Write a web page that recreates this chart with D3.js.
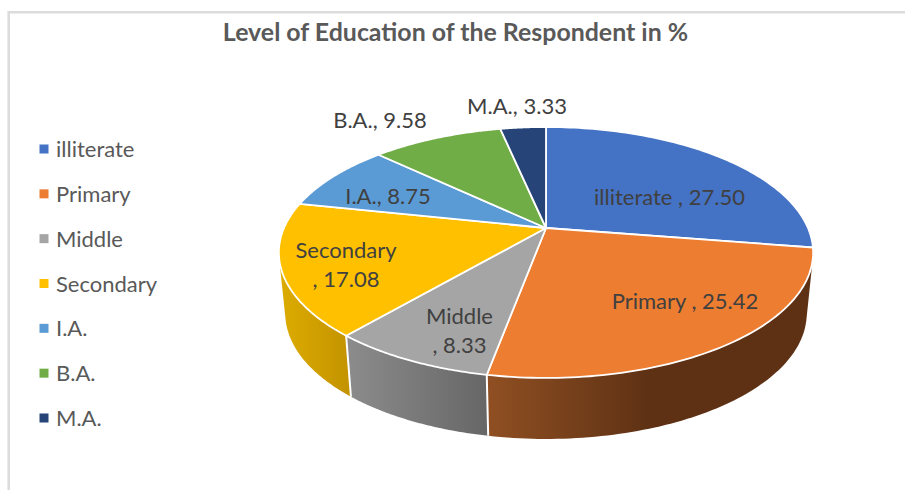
<!DOCTYPE html>
<html><head><meta charset="utf-8">
<script src="https://cdn.jsdelivr.net/npm/d3@7/dist/d3.min.js"></script>
<style>html,body{margin:0;padding:0;background:#fff}svg{display:block}text{font-family:Lato,"Open Sans",sans-serif}</style>
</head><body><svg id="c" width="905" height="490"></svg>
<script>
const categories = ["illiterate","Primary","Middle","Secondary","I.A.","B.A.","M.A."];
const values = [27.50,25.42,8.33,17.08,8.75,9.58,3.33];
const valueLabels = ["27.50","25.42","8.33","17.08","8.75","9.58","3.33"];
const colors = ["#4472c4","#ed7d31","#a5a5a5","#ffc000","#5b9bd5","#70ad47","#264478"];
const titleText = "Level of Education of the Respondent in %";

const svg = d3.select("#c");
const cx=546, cy=228, R=262, S=120.7, K=-0.195, DEPTH=61, SHRINK=0.976;
const top3 = t => { const u=Math.sin(t), v=-Math.cos(t), w=1+K*v; return [cx+R*u/w, cy+S*v/w]; };
const bot3 = t => { const p=top3(t); return [cx+(p[0]-cx)*SHRINK, p[1]+DEPTH]; };
const arcs = d3.pie().sort(null).value(d=>d)(values);
const line = d3.line();
const samples = (a,b) => d3.range(0,81).map(i=>a+(b-a)*i/80);

// frame
svg.append("path").attr("d","M8.7,490V12.2H905").attr("fill","none").attr("stroke","#dcdcdc").attr("stroke-width",2.6);

// gradients for side walls
const defs = svg.append("defs");
const wallGrad = [
 null,
 {x1:489,x2:650,stops:[["#8f4f22",0],["#5e3114",1]]},
 {x1:350,x2:489,stops:[["#8b8b8b",0],["#666666",1]]},
 {x1:282,x2:350,stops:[["#dcab00",0],["#c39300",1]]}
];
wallGrad.forEach((g,i)=>{ if(!g) return;
  const lg=defs.append("linearGradient").attr("id","w"+i).attr("gradientUnits","userSpaceOnUse")
    .attr("x1",g.x1).attr("x2",g.x2).attr("y1",0).attr("y2",0);
  g.stops.forEach(s=>lg.append("stop").attr("offset",s[1]).attr("stop-color",s[0]));
});

// walls: hull of the rim arcs gives the tangent silhouette; the top face covers the inner part
[3,2,1].forEach(i=>{
  const a=arcs[i], ts=samples(a.startAngle,a.endAngle);
  const pts=d3.polygonHull(ts.map(top3).concat(ts.map(bot3)));
  svg.append("path").attr("d",line(pts)+"Z").attr("fill",`url(#w${i})`);
});
// white seams between walls
[arcs[2].startAngle,arcs[3].startAngle].forEach(t=>{
  svg.append("path").attr("d",line([top3(t),bot3(t)])).attr("stroke","#fff").attr("stroke-width",2).attr("fill","none");
});

// top face
arcs.forEach((a,i)=>{
  const pts=[[cx,cy]].concat(samples(a.startAngle,a.endAngle).map(top3));
  svg.append("path").attr("d",line(pts)+"Z").attr("fill",colors[i]).attr("stroke","#fff").attr("stroke-width",1.8).attr("stroke-linejoin","round");
});

// title
svg.append("text").attr("x",455.5).attr("y",41).attr("text-anchor","middle").attr("font-size",24.9).attr("font-weight",700).attr("fill","#595959").text(titleText);

// legend
const legendY=d3.scalePoint().domain(categories).range([149,418]);
categories.forEach((c,i)=>{
  const y=legendY(c);
  svg.append("rect").attr("x",39.5).attr("y",y-4.5).attr("width",9).attr("height",9).attr("fill",colors[i]);
  svg.append("text").attr("x",56).attr("y",y+8).attr("font-size",22).attr("fill","#595959").text(c);
});

// data labels: centre of each text block, split where the original wraps
const labelAnchors=[[669.5,198],[685,302],[459.5,331],[346,265],[388,197],[380,121],[517,107]];
const labelWrap=[false,false,true,true,false,false,false];
categories.forEach((c,i)=>{
  const [x,y]=labelAnchors[i];
  const lines=labelWrap[i]?[c,", "+valueLabels[i]]:[(i<2?c+" , ":c+", ")+valueLabels[i]];
  lines.forEach((s,j)=>{
    svg.append("text").attr("x",x).attr("y",y+7+(j-(lines.length-1)/2)*29).attr("text-anchor","middle").attr("font-size",22).attr("fill","#404040").text(s);
  });
});
</script></body></html>
